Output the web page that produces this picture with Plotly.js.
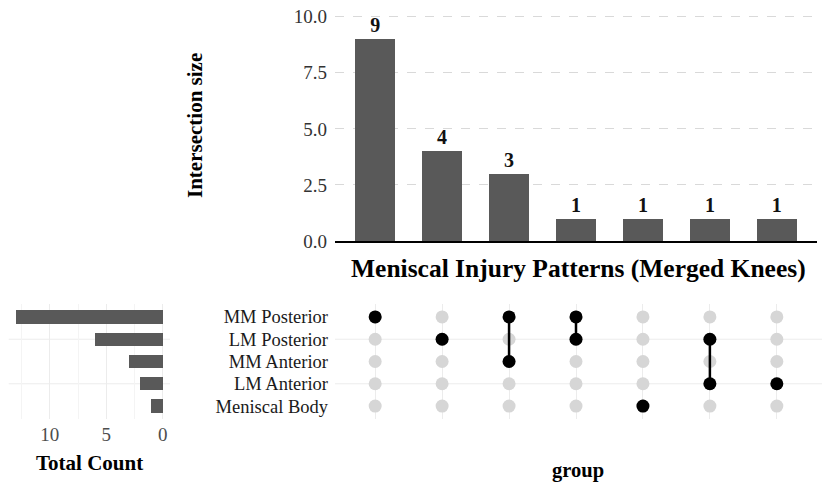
<!DOCTYPE html>
<html>
<head>
<meta charset="utf-8">
<script src="https://cdn.plot.ly/plotly-3.0.1.min.js"></script>
<style>
  html, body { margin: 0; padding: 0; background: #fff; }
  #plot { width: 828px; height: 493px; }
</style>
</head>
<body>
<div id="plot"></div>
<script>
// sets, top to bottom
const setNames = ['MM Posterior', 'LM Posterior', 'MM Anterior', 'LM Anterior', 'Meniscal Body'];
const setTotals = [13, 6, 3, 2, 1];
// intersections, left to right
const interSizes = [9, 4, 3, 1, 1, 1, 1];
const interMembers = [
  ['MM Posterior'],
  ['LM Posterior'],
  ['MM Posterior', 'MM Anterior'],
  ['MM Posterior', 'LM Posterior'],
  ['Meniscal Body'],
  ['LM Posterior', 'LM Anterior'],
  ['LM Anterior']
];

const W = 828, H = 493;
const px = v => v / W;
const py = v => 1 - v / H;
const serif = 'Liberation Serif, Times New Roman, serif';
const barColor = '#595959';

const cols = interSizes.map((_, i) => i + 1);
// row position: top set gets the highest value
const rowOf = name => setNames.length - setNames.indexOf(name);
const rows = setNames.map(rowOf);

// intersection bars
const topBars = {
  type: 'bar', x: cols, y: interSizes, xaxis: 'x', yaxis: 'y',
  width: 0.6, marker: { color: barColor },
  text: interSizes.map(v => '<b>' + v + '</b>'), textposition: 'outside',
  textfont: { family: serif, size: 20, color: '#111' },
  cliponaxis: false, hoverinfo: 'x+y'
};

// set size bars
const sideBars = {
  type: 'bar', orientation: 'h', x: setTotals, y: rows, xaxis: 'x2', yaxis: 'y2',
  width: 0.6, marker: { color: barColor }, hoverinfo: 'x'
};

// matrix: grey background dots
const bgX = [], bgY = [];
cols.forEach(c => rows.forEach(r => { bgX.push(c); bgY.push(r); }));
const bgDots = {
  type: 'scatter', mode: 'markers', x: bgX, y: bgY, xaxis: 'x3', yaxis: 'y3',
  marker: { size: 13, color: '#d6d6d6' }, hoverinfo: 'skip'
};

// connecting lines and active dots
const lnX = [], lnY = [], onX = [], onY = [];
interMembers.forEach((m, i) => {
  const ys = m.map(rowOf);
  ys.forEach(y => { onX.push(cols[i]); onY.push(y); });
  if (ys.length > 1) {
    lnX.push(cols[i], cols[i], null);
    lnY.push(Math.min(...ys), Math.max(...ys), null);
  }
});
const lines = {
  type: 'scatter', mode: 'lines', x: lnX, y: lnY, xaxis: 'x3', yaxis: 'y3',
  line: { color: '#000', width: 2.5 }, hoverinfo: 'skip'
};
const onDots = {
  type: 'scatter', mode: 'markers', x: onX, y: onY, xaxis: 'x3', yaxis: 'y3',
  marker: { size: 13, color: '#000' }, hoverinfo: 'skip'
};

const topDom = [py(241), py(10)];
const matDom = [py(419.4), py(303.6)];
const xDom = [px(335), px(817)];
const leftDom = [px(8.7), px(170)];

// light stripes on alternating rows
const stripeRows = rows.filter((r, i) => i % 2 === 1);
const shapes = [];
stripeRows.forEach(r => {
  [[px(335), px(822)], [leftDom[0], leftDom[1]]].forEach(([a, b]) => {
    shapes.push({ type: 'line', xref: 'paper', yref: 'y3', x0: a, x1: b, y0: r, y1: r,
      line: { color: '#ececec', width: 1 }, layer: 'below' });
  });
});

const tickFont = { family: serif, size: 19, color: '#4d4d4d' };

const layout = {
  width: W, height: H,
  margin: { l: 0, r: 0, t: 0, b: 0 },
  paper_bgcolor: '#fff', plot_bgcolor: 'rgba(0,0,0,0)',
  showlegend: false, bargap: 0,
  font: { family: serif },
  xaxis: {
    domain: xDom, anchor: 'y', range: [0.4, 7.6], showgrid: false, zeroline: false,
    showticklabels: false, ticks: '', showline: true, linecolor: '#000', linewidth: 2
  },
  yaxis: {
    domain: topDom, anchor: 'x', range: [0, 10.3], tickvals: [0, 2.5, 5, 7.5, 10],
    tickformat: '.1f', tickfont: { family: serif, size: 19, color: '#333' },
    showgrid: true, gridcolor: '#d9d9d9',
    griddash: 'dash', gridwidth: 1, zeroline: false, ticks: '', ticklabelstandoff: 7
  },
  xaxis2: {
    domain: leftDom, anchor: 'y2', range: [13.65, -0.65], tickvals: [0, 5, 10],
    tickfont: tickFont, showgrid: true, gridcolor: '#ececec', zeroline: false, ticks: '',
    minor: { tickvals: [2.5, 7.5, 12.5], showgrid: true, gridcolor: '#f4f4f4' },
    ticklabelstandoff: 2
  },
  yaxis2: {
    domain: matDom, anchor: 'x2', range: [0.4, 5.6], showticklabels: false,
    showgrid: false, zeroline: false, ticks: ''
  },
  xaxis3: {
    domain: xDom, anchor: 'y3', range: [0.4, 7.6], tickvals: cols, showticklabels: false,
    showgrid: true, gridcolor: '#ececec', zeroline: false, ticks: ''
  },
  yaxis3: {
    domain: matDom, anchor: 'x3', range: [0.4, 5.6], tickvals: rows, ticktext: setNames,
    tickfont: { family: serif, size: 18.5, color: '#1a1a1a' }, showgrid: false,
    zeroline: false, ticks: '', ticklabelstandoff: 6
  },
  shapes: shapes,
  annotations: [
    { text: '<b>Meniscal Injury Patterns (Merged Knees)</b>', xref: 'paper', yref: 'paper',
      x: px(578), y: py(268), xanchor: 'center', yanchor: 'middle', showarrow: false,
      font: { family: serif, size: 25.5, color: '#000' } },
    { text: '<b>Intersection size</b>', xref: 'paper', yref: 'paper', textangle: -90,
      x: px(195), y: py(126), xanchor: 'center', yanchor: 'middle', showarrow: false,
      font: { family: serif, size: 21, color: '#000' } },
    { text: '<b>Total Count</b>', xref: 'paper', yref: 'paper',
      x: px(89), y: py(463), xanchor: 'center', yanchor: 'middle', showarrow: false,
      font: { family: serif, size: 21, color: '#000' } },
    { text: '<b>group</b>', xref: 'paper', yref: 'paper',
      x: px(578), y: py(470), xanchor: 'center', yanchor: 'middle', showarrow: false,
      font: { family: serif, size: 20.5, color: '#000' } }
  ]
};

Plotly.newPlot('plot', [topBars, sideBars, bgDots, lines, onDots], layout,
  { displayModeBar: false, staticPlot: true });
</script>
</body>
</html>
